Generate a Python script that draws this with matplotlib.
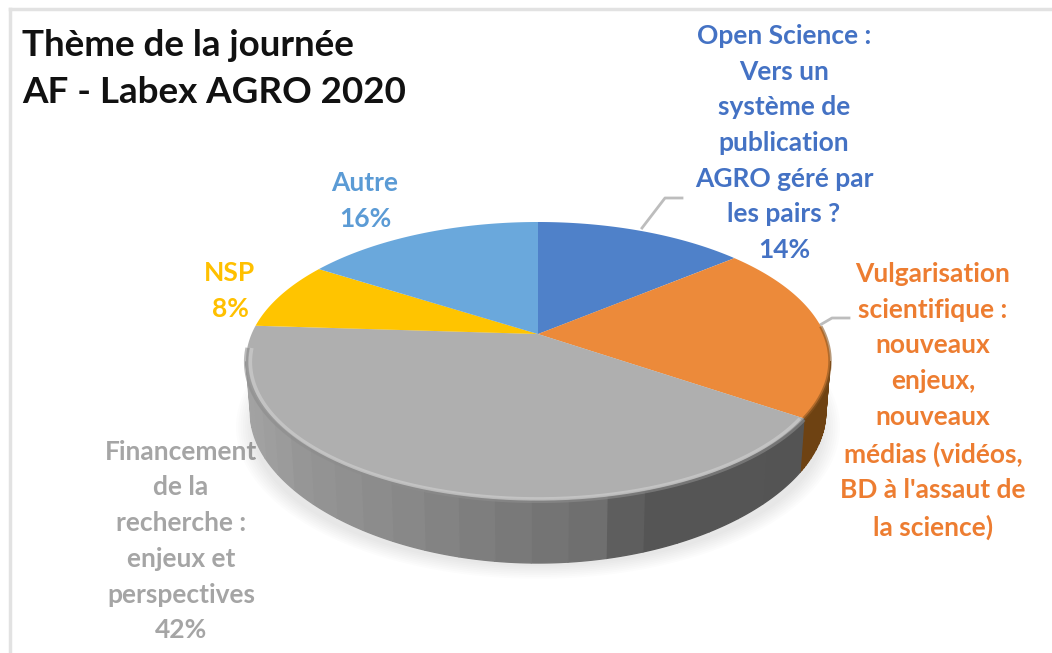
import numpy as np
import matplotlib
matplotlib.use("Agg")
import matplotlib.pyplot as plt

# Slice data, clockwise from the top of the disc
labels = ["Open Science :\nVers un\nsystème de\npublication\nAGRO géré par\nles pairs ?",
          "Vulgarisation\nscientifique :\nnouveaux\nenjeux,\nnouveaux\nmédias (vidéos,\nBD à l'assaut de\nla science)",
          "Financement\nde la\nrecherche :\nenjeux et\nperspectives",
          "NSP",
          "Autre"]
values = [14, 20.5, 41.5, 8, 16]
shown_pct = ["14%", "", "42%", "8%", "16%"]
slice_colors = ["#4f81c9", "#ec8a3a", "#afafaf", "#ffc400", "#6aa8dc"]
text_colors = ["#4472c4", "#ed7d31", "#a5a5a5", "#ffc000", "#5b9bd5"]
title = "Thème de la journée\nAF - Labex AGRO 2020"

# Disc geometry in figure pixels
CX, CY = 538, 361
RX, RY = 292, 139
DEPTH = 63
TILT = 0.194  # moves the slices' common point up, as perspective does


def disc_xy(theta, scale=1.0):
    """Angle clockwise from north -> pixel position on the tilted disc."""
    x, y = np.sin(theta), np.cos(theta)
    den = 1 + TILT * y
    ex = x * np.sqrt(1 - TILT ** 2) / den
    ey = (y + TILT) / den
    return CX + RX * ex * scale, CY - RY * ey * scale


fig = plt.figure(figsize=(10.52, 6.53), dpi=100)
ax = fig.add_axes([0, 0, 1, 1])
ax.set_xlim(0, 1052)
ax.set_ylim(653, 0)
ax.axis("off")
plt.rcParams["font.family"] = ["Lato", "DejaVu Sans"]

# Outer frame, only partly inside the crop
ax.plot([10, 10], [653, 9], color="#e2e2e2", lw=2.5, zorder=1)
ax.plot([10, 1052], [9, 9], color="#e2e2e2", lw=2.5, zorder=1)

ax.text(22, 69, title, fontsize=26.5, fontweight="bold", color="#111111",
        ha="left", va="center", linespacing=1.53, zorder=2)

# Text labels, placed before the disc because the disc overlaps "Financement"
label_xy = [(784, 143), (933, 401), (181, 541), (230, 291), (365, 201)]
for i, lab in enumerate(labels):
    txt = lab + ("\n" + shown_pct[i] if shown_pct[i] else "")
    ax.text(label_xy[i][0], label_xy[i][1], txt, fontsize=19,
            fontweight="bold", color=text_colors[i], ha="center", va="center",
            linespacing=1.585, zorder=2)

# Leader lines
ax.plot([642, 665, 682], [228, 198, 198], color="#bdbdbd", lw=2, zorder=2)
ax.plot([820, 832, 849], [325, 318, 318], color="#bdbdbd", lw=2, zorder=2)

# Soft shadow below the disc
t = np.linspace(0, 2 * np.pi, 300)
for grow in np.linspace(16, 0, 8):
    ax.fill(CX + (RX - 6 + grow) * np.sin(t), CY + DEPTH + 3 + (RY + grow * 0.8) * np.cos(t),
            color="#000000", alpha=0.012, lw=0, zorder=3)

edges = np.cumsum([0] + values) / np.sum(values) * 2 * np.pi

# Side wall, in narrow bands so the shading steps like the original
for i in range(len(values)):
    th = np.linspace(edges[i], edges[i + 1], 400)
    x, y = disc_xy(th)
    keep = y >= CY
    if not keep.any():
        continue
    x, y = x[keep], y[keep]
    for part in np.array_split(np.arange(len(x)), 22):
        if len(part) == 0:
            continue
        idx = np.r_[part, min(part[-1] + 1, len(x) - 1)]
        xa, ya = x[idx], y[idx]
        xb = CX + (xa - CX) * 0.985
        yb = ya + DEPTH - 11 * ((xa - CX) / RX) ** 2
        if i == 1:
            col = "#6e4212"
        else:
            g = np.interp(xa.mean(), [246, 300, 430, 600, 640, 810],
                          [0.64, 0.59, 0.52, 0.43, 0.335, 0.33])
            col = (g, g, g)
        ax.fill(np.r_[xa, xb[::-1]], np.r_[ya, yb[::-1]], color=col, lw=1, zorder=4)

# Top face
for i in range(len(values)):
    th = np.linspace(edges[i], edges[i + 1], 200)
    x, y = disc_xy(th)
    ax.fill(np.r_[CX, x], np.r_[CY - RY * TILT, y], color=slice_colors[i], lw=0, zorder=5)

# Rim bevel along the front edge
th = np.linspace(edges[1], edges[2], 300)
x, y = disc_xy(th)
keep = y >= CY - 35
ax.plot(x[keep], y[keep], color="#8a5520", lw=2.5, alpha=0.6, zorder=6, solid_capstyle="butt")

th = np.linspace(edges[2], edges[3], 300)
x, y = disc_xy(th, scale=1.0)
keep = y >= CY - 15
ax.plot(x[keep], y[keep] + 1, color="#8c8c8c", lw=3, alpha=0.6, zorder=6, solid_capstyle="butt")
x, y = disc_xy(th, scale=0.985)
ax.plot(x[keep], y[keep] + 1, color="#cfcfcf", lw=2.5, alpha=0.65, zorder=6, solid_capstyle="butt")

fig.savefig("out.png", dpi=100, facecolor="white")
